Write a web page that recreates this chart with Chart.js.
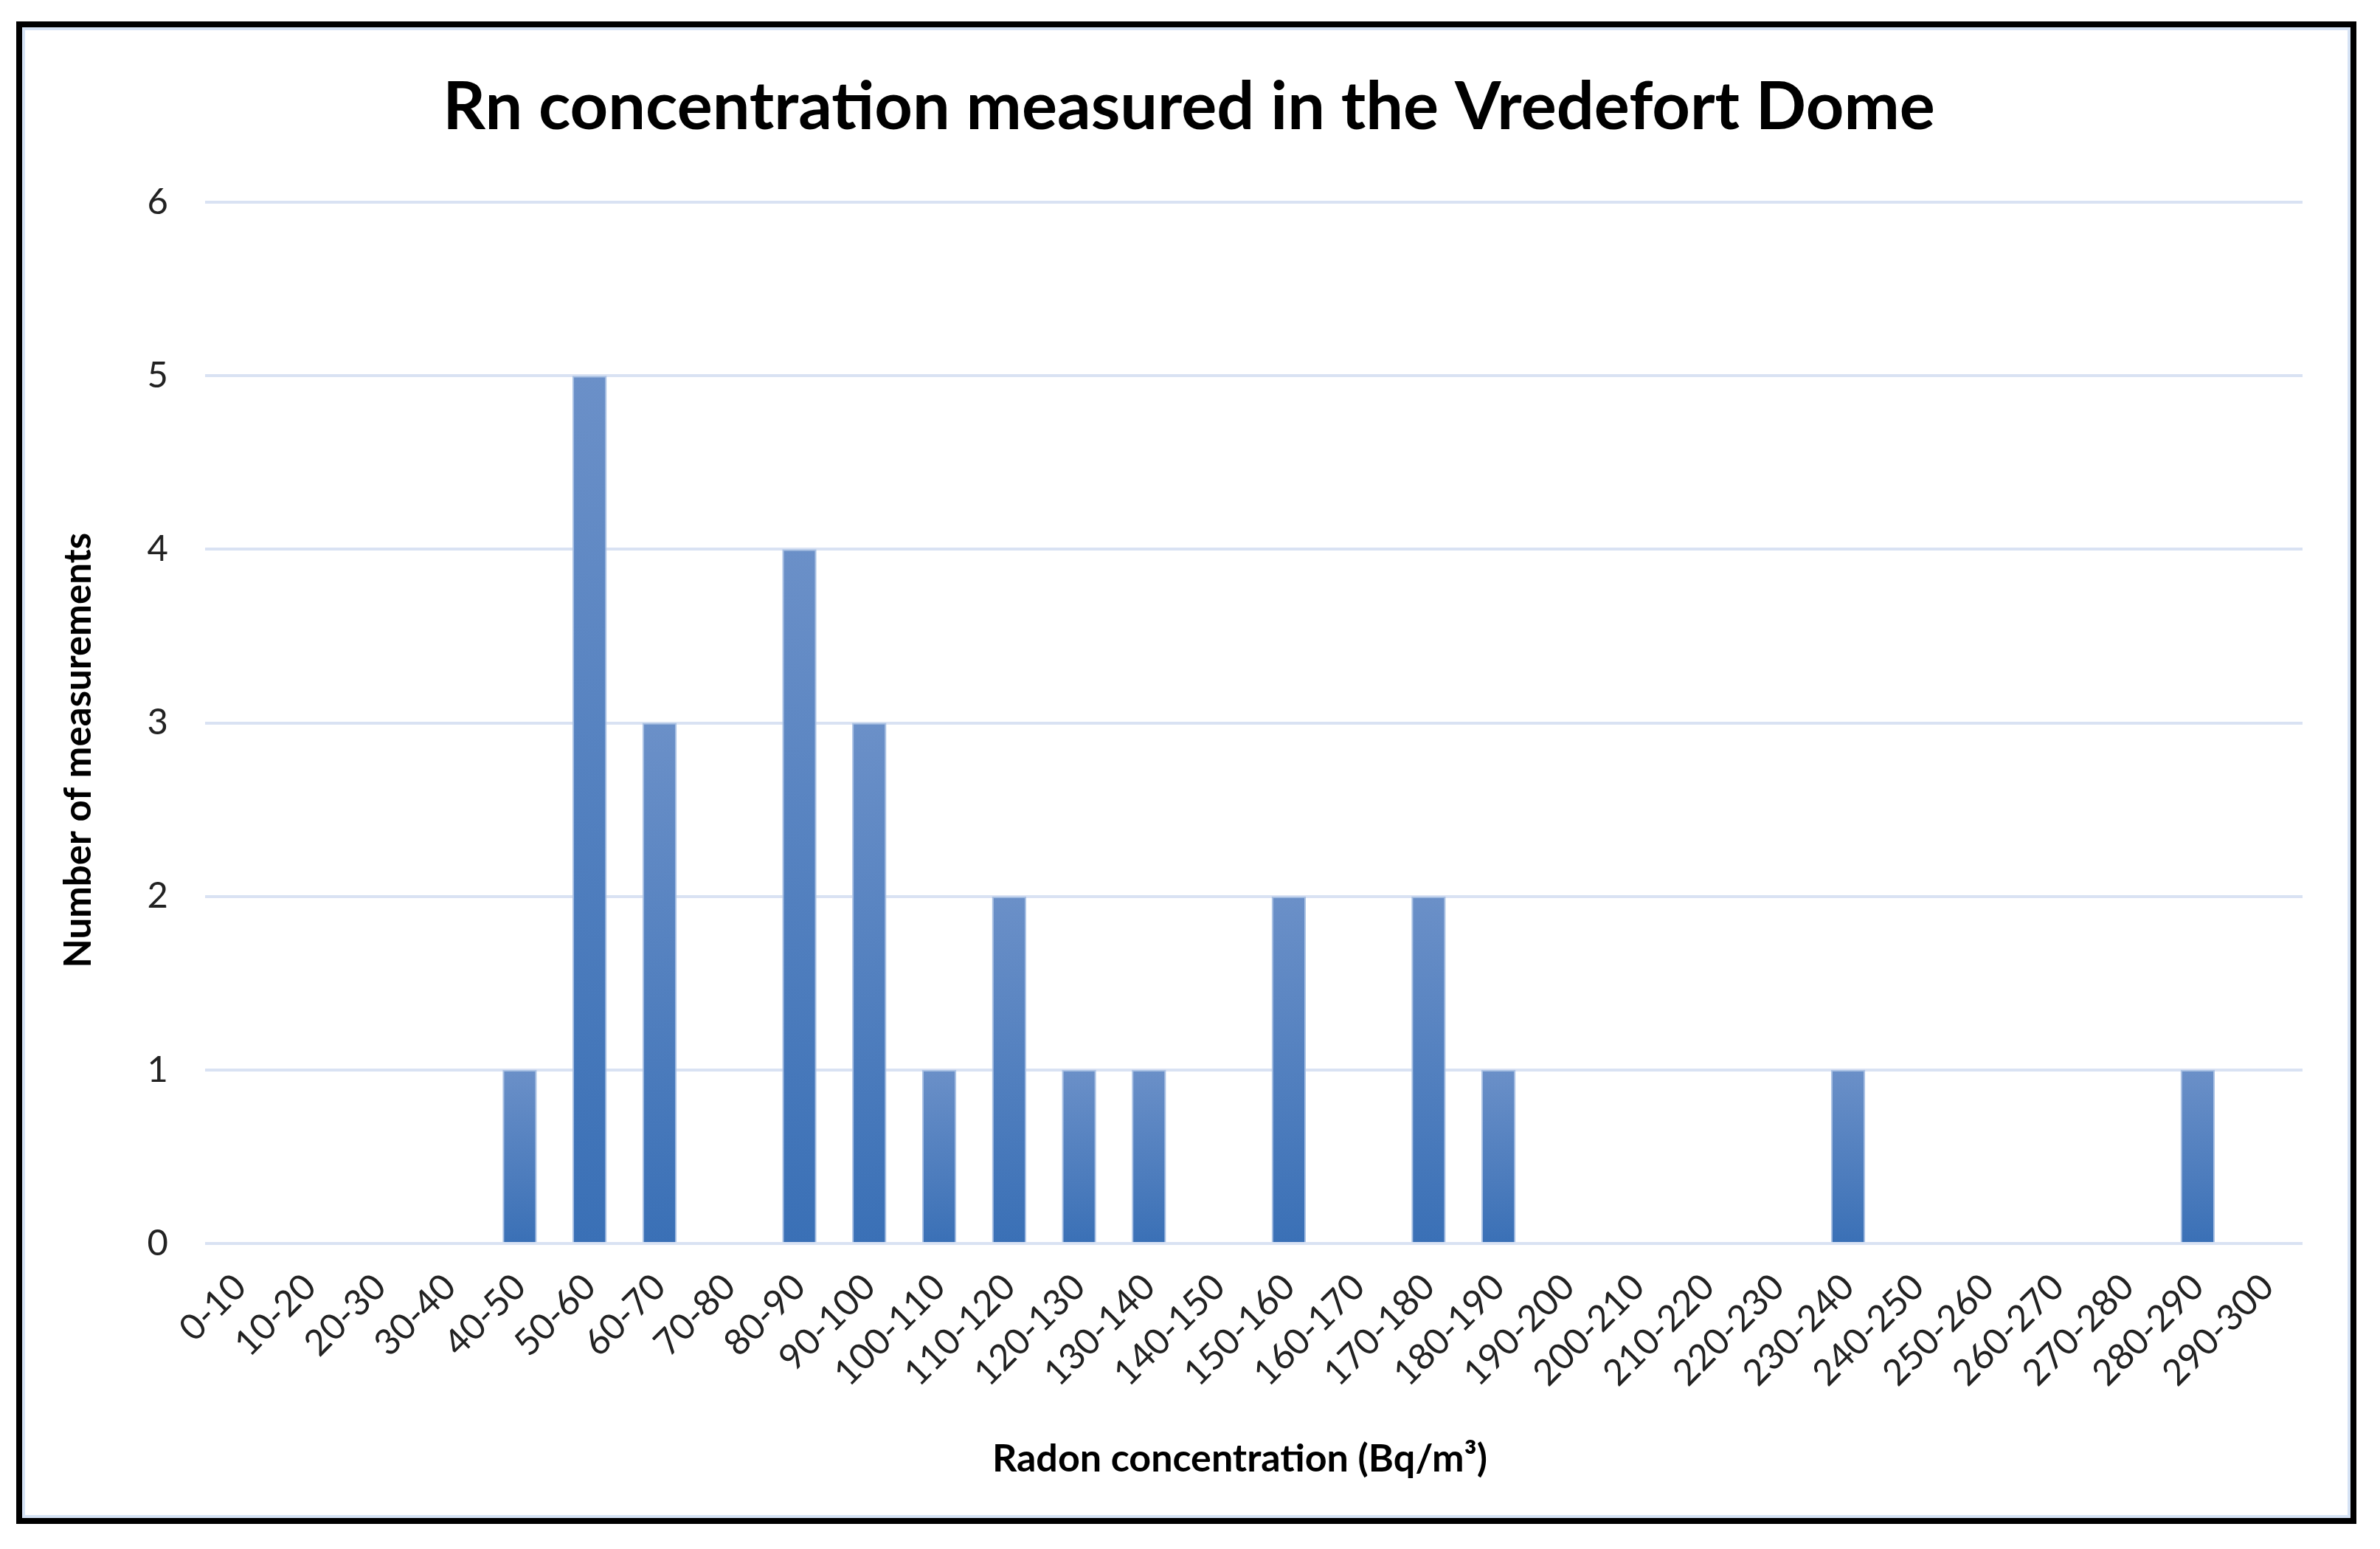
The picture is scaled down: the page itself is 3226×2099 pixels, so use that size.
<!DOCTYPE html>
<html>
<head>
<meta charset="utf-8">
<script src="https://cdn.jsdelivr.net/npm/chart.js@4.4.1/dist/chart.umd.min.js"></script>
<style>
  html, body { margin: 0; padding: 0; background: #fff; }
  #chart { position: absolute; left: 0; top: 0; }
  #frame {
    position: absolute; left: 22px; top: 29px;
    width: 3156px; height: 2020px;
    border: 8px solid #000;
    box-shadow: inset 0 0 0 4px #d6e3f5;
    pointer-events: none;
  }
</style>
</head>
<body>
<canvas id="chart" width="3226" height="2099"></canvas>
<div id="frame"></div>
<script>
// radon bins (Bq/m3) and how many measurements fell in each
const bins = ['0-10', '10-20', '20-30', '30-40', '40-50', '50-60', '60-70', '70-80', '80-90', '90-100',
  '100-110', '110-120', '120-130', '130-140', '140-150', '150-160', '160-170', '170-180', '180-190', '190-200',
  '200-210', '210-220', '220-230', '230-240', '240-250', '250-260', '260-270', '270-280', '280-290', '290-300']
const counts = [0, 0, 0, 0, 1, 5, 3, 0, 4, 3,
  1, 2, 1, 1, 0, 2, 0, 2, 1, 0,
  0, 0, 0, 1, 0, 0, 0, 0, 1, 0]
const yTicks = [0, 1, 2, 3, 4, 5, 6]

const chartTitle = 'Rn concentration measured in the Vredefort Dome'
// trailing spaces nudge the centred axis titles a little, like the excel original
const xTitle = 'Radon concentration (Bq/m\u00b3)   '
const yTitle = 'Number of measurements      '

const fontFamily = 'Lato, "Open Sans", sans-serif'

// excel-ish gradient, one per bar, lighter at the top
function barFill(ctx) {
    const chart = ctx.chart
    if (!chart.chartArea || ctx.type !== 'data') return '#4f7fc0'
    const y = chart.scales.y
    const top = y.getPixelForValue(ctx.raw)
    const bottom = y.getPixelForValue(0)
    if (bottom - top < 1) return '#3f74b8'
    const g = chart.ctx.createLinearGradient(0, top, 0, bottom)
    g.addColorStop(0, '#6b90c8')
    g.addColorStop(1, '#3a70b6')
    return g
}

Chart.defaults.font.family = fontFamily
Chart.defaults.color = '#333'

new Chart('chart', {
    type: 'bar',
    data: {
        labels: bins,
        datasets: [{
            data: counts,
            backgroundColor: barFill,
            borderColor: '#a9c1e4',
            borderWidth: ctx => (ctx.raw ? 2 : 0),
            categoryPercentage: 1,
            barPercentage: 0.49
        }]
    },
    options: {
        responsive: false,
        animation: false,
        devicePixelRatio: 1,
        layout: { padding: { left: 102, right: 105, top: 40, bottom: 60 } },
        plugins: {
            legend: { display: false },
            tooltip: { enabled: false },
            title: {
                display: true,
                text: chartTitle,
                color: '#000',
                font: { size: 90, weight: 'bold' },
                padding: { top: 52, bottom: 74 }
            }
        },
        scales: {
            x: {
                grid: { display: false, drawTicks: false },
                border: { display: false },
                ticks: {
                    autoSkip: false,
                    maxRotation: 45,
                    minRotation: 45,
                    padding: 30,
                    color: '#222',
                    font: { size: 49 }
                },
                title: {
                    display: true,
                    text: xTitle,
                    color: '#000',
                    font: { size: 52, weight: 'bold' },
                    padding: { top: 0, bottom: 31 }
                },
                afterFit: s => { s.height = 354 }
            },
            y: {
                min: 0,
                max: 6,
                grid: { color: '#d9e2f3', lineWidth: 4, drawTicks: false },
                border: { display: false },
                ticks: {
                    padding: 50,
                    color: '#222',
                    font: { size: 49 }
                },
                afterBuildTicks: s => { s.ticks = yTicks.map(v => ({ value: v })) },
                title: {
                    display: true,
                    text: yTitle,
                    color: '#000',
                    font: { size: 51, weight: 'bold' },
                    padding: { top: -26, bottom: 0 }
                },
                afterFit: s => { s.width = 176 }
            }
        }
    }
})
</script>
</body>
</html>
